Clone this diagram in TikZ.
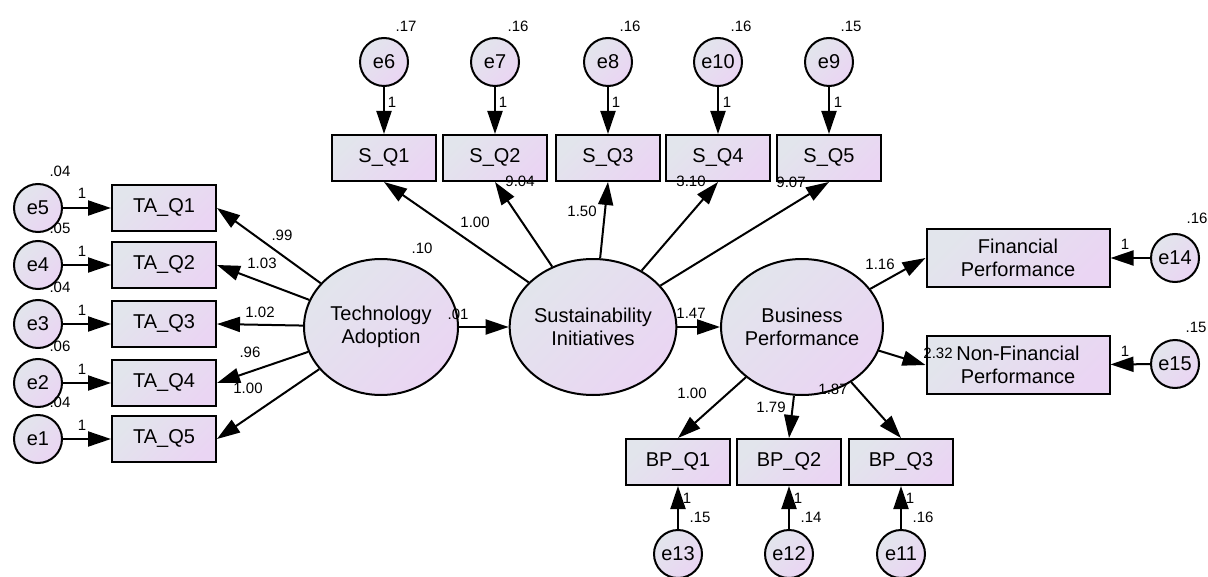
\documentclass[tikz,border=0pt]{standalone}
\usepackage{fontspec}
\setmainfont{Liberation Sans}
\usetikzlibrary{shapes.geometric,arrows.meta}
\definecolor{shadegray}{RGB}{226,229,236}
\definecolor{shadepink}{RGB}{234,213,243}

\begin{document}
\begin{tikzpicture}[x=0.5pt,y=-0.5pt,>={Triangle[length=11.5pt,width=7.5pt]},line width=1pt,
    shade box/.style={top color=shadegray,bottom color=shadepink,shading angle=45},
    latent node/.style={ellipse,draw,shade box,minimum width=77pt,minimum height=68pt,inner sep=0pt,align=center,font=\fontsize{10}{11.5}\selectfont},
    item node/.style={rectangle,draw,shade box,minimum width=52pt,minimum height=23pt,inner sep=0pt,font=\fontsize{10}{11.5}\selectfont},
    wide node/.style={item node,minimum width=91.5pt,minimum height=29pt,align=center},
    error node/.style={circle,draw,shade box,minimum size=24pt,inner sep=0pt,font=\fontsize{10}{11.5}\selectfont},
    est/.style={inner sep=0pt,font=\fontsize{7.5}{8}\selectfont}]

            \useasboundingbox (0,0) rectangle (1208,577);

            % latent variables
            \node[latent node] (TA) at (381,327) {Technology\\Adoption};
            \node[latent node] (SI) at (593,327) {Sustainability\\Initiatives};
            \node[latent node] (BP) at (802,327) {Business\\Performance};

            % technology adoption items
            \node[item node] (TA1) at (164,208) {TA\_Q1};
            \node[item node] (TA2) at (164,265) {TA\_Q2};
            \node[item node] (TA3) at (164,324) {TA\_Q3};
            \node[item node] (TA4) at (164,383) {TA\_Q4};
            \node[item node] (TA5) at (164,439) {TA\_Q5};
            \node[error node] (e5) at (38,208) {e5};
            \node[error node] (e4) at (38,265) {e4};
            \node[error node] (e3) at (38,324) {e3};
            \node[error node] (e2) at (38,383) {e2};
            \node[error node] (e1) at (38,439) {e1};

            % sustainability items
            \node[item node] (SQ1) at (384,158) {S\_Q1};
            \node[item node] (SQ2) at (495,158) {S\_Q2};
            \node[item node] (SQ3) at (608,158) {S\_Q3};
            \node[item node] (SQ4) at (718,158) {S\_Q4};
            \node[item node] (SQ5) at (829,158) {S\_Q5};
            \node[error node] (e6) at (384,62) {e6};
            \node[error node] (e7) at (495,62) {e7};
            \node[error node] (e8) at (608,62) {e8};
            \node[error node] (e10) at (718,62) {e10};
            \node[error node] (e9) at (829,62) {e9};

            % business performance items
            \node[wide node] (FP) at (1018,258) {Financial\\Performance};
            \node[wide node] (NFP) at (1018,365) {Non-Financial\\Performance};
            \node[error node] (e14) at (1175,258) {e14};
            \node[error node] (e15) at (1175,364) {e15};
            \node[item node] (BPQ1) at (678,462) {BP\_Q1};
            \node[item node] (BPQ2) at (789,462) {BP\_Q2};
            \node[item node] (BPQ3) at (901,462) {BP\_Q3};
            \node[error node] (e13) at (678,554) {e13};
            \node[error node] (e12) at (789,554) {e12};
            \node[error node] (e11) at (901,554) {e11};

            \path[->]
                (e5) edge (TA1)
                (e4) edge (TA2)
                (e3) edge (TA3)
                (e2) edge (TA4)
                (e1) edge (TA5)
                (TA) edge (TA1.east)
                (TA) edge (TA2.east)
                (TA) edge (TA3.east)
                (TA) edge (TA4.east)
                (TA) edge (TA5.east)
                (e6) edge (SQ1)
                (e7) edge (SQ2)
                (e8) edge (SQ3)
                (e10) edge (SQ4)
                (e9) edge (SQ5)
                (SI) edge (SQ1.south)
                (SI) edge (SQ2.south)
                (SI) edge (SQ3.south)
                (SI) edge (SQ4.south)
                (SI) edge (SQ5.south)
                (TA) edge (SI)
                (SI) edge (BP)
                (BP) edge (FP.west)
                (BP) edge (NFP.west)
                (BP) edge (BPQ1.north)
                (BP) edge (BPQ2.north)
                (BP) edge (BPQ3.north)
                (e14) edge (FP)
                (e15) edge (NFP)
                (e13) edge (BPQ1)
                (e12) edge (BPQ2)
                (e11) edge (BPQ3)
                ;

            % estimates
            \node[est] (v5) at (60,171) {.04};
            \node[est] (v4) at (60,228) {.05};
            \node[est] (v3) at (60,287) {.04};
            \node[est] (v2) at (60,346) {.06};
            \node[est] (v1) at (60,402) {.04};
            \node[est] (f5) at (82,193) {1};
            \node[est] (f4) at (82,251) {1};
            \node[est] (f3) at (82,310) {1};
            \node[est] (f2) at (82,369) {1};
            \node[est] (f1) at (82,425) {1};
            \node[est] (w1) at (282,235) {.99};
            \node[est] (w2) at (262,263) {1.03};
            \node[est] (w3) at (260,312) {1.02};
            \node[est] (w4) at (250,352) {.96};
            \node[est] (w5) at (248,388) {1.00};

            \node[est] (v6) at (406,26) {.17};
            \node[est] (v7) at (518,26) {.16};
            \node[est] (v8) at (630,26) {.16};
            \node[est] (v10) at (741,26) {.16};
            \node[est] (v9) at (851,26) {.15};
            \node[est] (f6) at (392,102) {1};
            \node[est] (f7) at (503,102) {1};
            \node[est] (f8) at (616,102) {1};
            \node[est] (f10) at (727,102) {1};
            \node[est] (f9) at (838,102) {1};
            \node[est] (s1) at (475,222) {1.00};
            \node[est] (s2) at (520,181) {9.04};
            \node[est] (s3) at (582,211) {1.50};
            \node[est] (s4) at (691,181) {3.10};
            \node[est] (s5) at (791,182) {9.07};

            \node[est] (vTA) at (422,248) {.10};
            \node[est] (bTS) at (458,314) {.01};
            \node[est] (bSB) at (691,313) {1.47};

            \node[est] (b1) at (880,264) {1.16};
            \node[est] (b2) at (938,353) {2.32};
            \node[est] (q1) at (692,393) {1.00};
            \node[est] (q2) at (771,407) {1.79};
            \node[est] (q3) at (833,389) {1.87};
            \node[est] (f14) at (1125,244) {1};
            \node[est] (f15) at (1125,351) {1};
            \node[est] (v14) at (1197,218) {.16};
            \node[est] (v15) at (1196,327) {.15};
            \node[est] (f13) at (687,498) {1};
            \node[est] (f12) at (798,498) {1};
            \node[est] (f11) at (910,498) {1};
            \node[est] (v13) at (700,517) {.15};
            \node[est] (v12) at (811,517) {.14};
            \node[est] (v11) at (923,517) {.16};
        \end{tikzpicture}
\end{document}
